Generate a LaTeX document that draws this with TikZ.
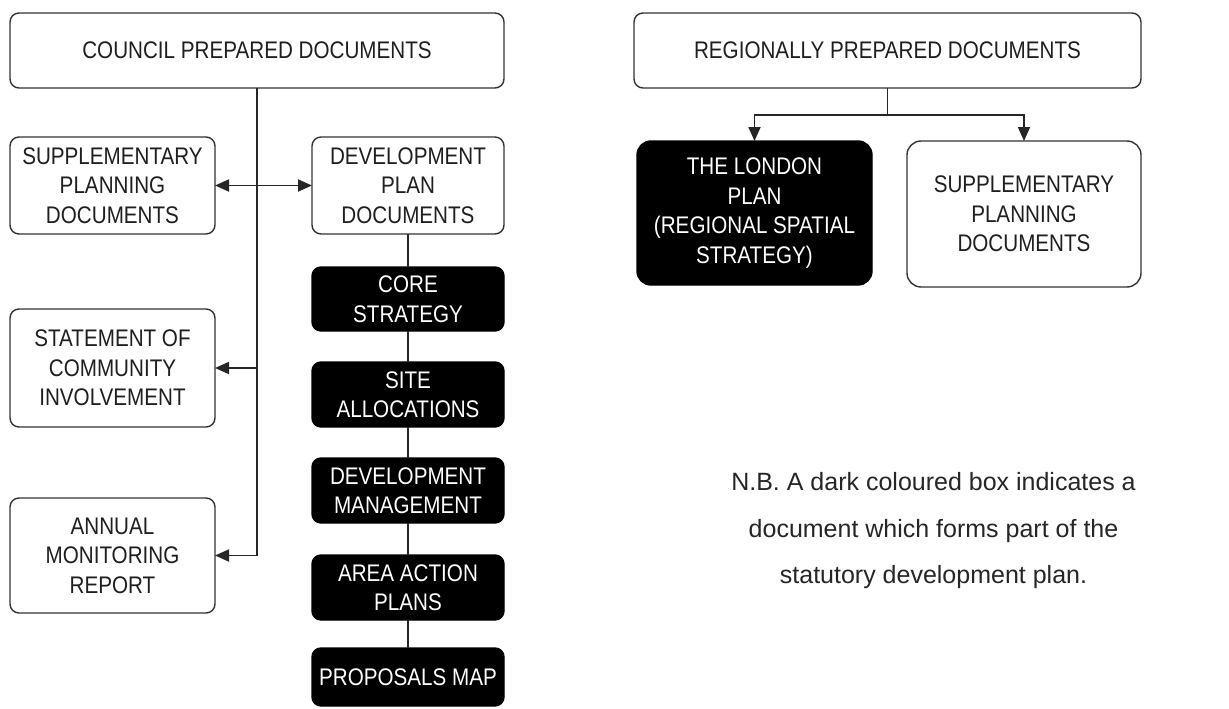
\documentclass[tikz,border=0pt]{standalone}
\usepackage{fontspec}
\setmainfont{Liberation Sans}[FakeStretch=0.86]
\newfontfamily\notefont{Liberation Sans}
\usetikzlibrary{arrows.meta,calc}
\begin{document}
\begin{tikzpicture}[x=1pt,y=-1pt,
  every node/.style={inner sep=0pt,outer sep=0pt},
  wbox/.style={draw=black!80,line width=1.4pt,rounded corners=9pt,fill=white,
    align=center,text=black!88,font=\fontsize{24}{29.5}\selectfont},
  bbox/.style={draw=black,line width=1.4pt,rounded corners=9pt,fill=black,
    align=center,text=white,font=\fontsize{24}{29.5}\selectfont,
    minimum width=192pt},
  conn/.style={draw=black!85,line width=1.8pt},
  tip/.style={-{Triangle[length=14pt,width=12pt]}},
  tips/.style={{Triangle[length=14pt,width=12pt]}-{Triangle[length=14pt,width=12pt]}},
]
\useasboundingbox[fill=white] (0,0) rectangle (1229,709);

% left column
\node[wbox,minimum width=494pt,minimum height=75pt] (council) at (257,50.5) {COUNCIL PREPARED DOCUMENTS};
\node[wbox,minimum width=205pt,minimum height=97pt] (supl) at (112.5,185.5) {SUPPLEMENTARY\\PLANNING\\DOCUMENTS};
\node[wbox,minimum width=192pt,minimum height=97pt] (dpd) at (408,185.5) {DEVELOPMENT\\PLAN\\DOCUMENTS};
\node[wbox,minimum width=205pt,minimum height=118pt] (sci) at (112.5,368) {STATEMENT OF\\COMMUNITY\\INVOLVEMENT};
\node[wbox,minimum width=205pt,minimum height=115pt] (amr) at (112.5,555.5) {ANNUAL\\MONITORING\\REPORT};

\node[bbox,minimum height=64pt] (core) at (408,299) {CORE\\STRATEGY};
\node[bbox,minimum height=65pt] (site) at (408,394.5) {SITE\\ALLOCATIONS};
\node[bbox,minimum height=65pt] (devm) at (408,490.5) {DEVELOPMENT\\MANAGEMENT};
\node[bbox,minimum height=65pt] (aap) at (408,587.5) {AREA ACTION\\PLANS};
\node[bbox,minimum height=58pt] (pm) at (408,677) {PROPOSALS MAP};

% right column
\node[wbox,minimum width=507pt,minimum height=75pt] (reg) at (887.5,50.5) {REGIONALLY PREPARED DOCUMENTS};
\node[bbox,rounded corners=14pt,minimum width=235pt,minimum height=144pt] (london) at (754.5,213) {THE LONDON\\PLAN\\(REGIONAL SPATIAL\\STRATEGY)};
\node[wbox,rounded corners=14pt,minimum width=234pt,minimum height=146pt] (supr) at (1024,214) {SUPPLEMENTARY\\PLANNING\\DOCUMENTS};

\node[align=center,text=black!85,font=\notefont\fontsize{25}{46.5}\selectfont] (note) at (933.5,531)
  {N.B. A dark coloured box indicates a\\document which forms part of the\\statutory development plan.};

% connectors left
\draw[conn] (council.south) -- (council.south |- amr.east);
\draw[conn,tip] (council.south |- amr.east) -- (amr.east);
\draw[conn,tip] (council.south |- sci.east) -- (sci.east);
\draw[conn,tips] (supl.east) -- (dpd.west);
\draw[conn] (dpd.south) -- (core.north);
\draw[conn] (core.south) -- (site.north);
\draw[conn] (site.south) -- (devm.north);
\draw[conn] (devm.south) -- (aap.north);
\draw[conn] (aap.south) -- (pm.north);

% connectors right
\coordinate (j) at ($(reg.south)+(0,27)$);
\draw[conn] (reg.south) -- (j);
\draw[conn,tip] (j) -| (london.north);
\draw[conn,tip] (j) -| (supr.north);
\end{tikzpicture}
\end{document}
